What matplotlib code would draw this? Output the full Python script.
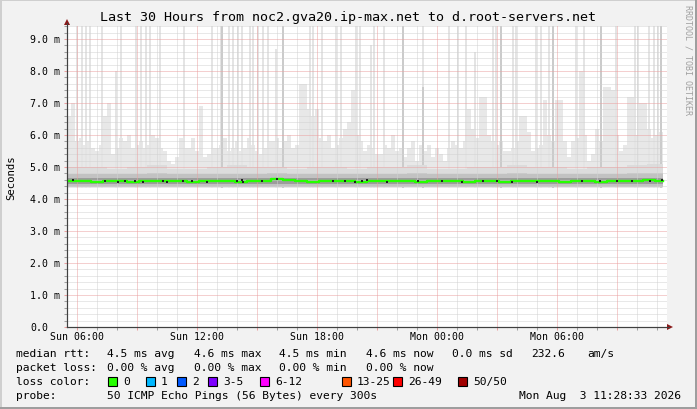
import matplotlib
matplotlib.use('Agg')
import matplotlib.pyplot as plt
import numpy as np
from matplotlib.patches import Rectangle, Polygon
from matplotlib.lines import Line2D

# ---------------- data ----------------
title = "Last 30 Hours from noc2.gva20.ip-max.net to d.root-servers.net"
xtick_hours = [0.5, 6.5, 12.5, 18.5, 24.5]          # hours since Sun 05:30
xtick_labels = ["Sun 06:00", "Sun 12:00", "Sun 18:00", "Mon 00:00", "Mon 06:00"]
ytick_values = [0, 1, 2, 3, 4, 5, 6, 7, 8, 9]         # ms
ytick_labels = ["0.0", "1.0 m", "2.0 m", "3.0 m", "4.0 m", "5.0 m",
                "6.0 m", "7.0 m", "8.0 m", "9.0 m"]

# light smoke envelope, 12-minute bins (ms)
smoke_hi = [6.6, 7.0, 5.8, 5.9, 5.7, 5.8, 5.6, 5.5, 5.7, 6.6, 7.0, 5.4, 5.6, 5.9, 5.8, 6.0,
            5.6, 5.7, 5.8, 5.6, 5.7, 6.0, 5.9, 5.6, 5.5, 5.2, 5.1, 5.3, 5.9, 5.6, 5.6, 5.9,
            5.5, 6.9, 5.3, 5.4, 5.6, 5.6, 5.7, 5.9, 5.5, 5.6, 5.8, 5.5, 5.6, 5.9, 5.7, 5.5,
            5.4, 5.6, 5.8, 5.8, 5.9, 5.6, 5.8, 6.0, 5.6, 5.7, 7.6, 7.6, 6.8, 6.6, 6.8, 5.9,
            5.8, 6.0, 5.6, 5.7, 5.9, 6.2, 6.4, 7.4, 6.0, 5.8, 5.5, 5.7, 5.6, 5.4, 5.4, 5.7,
            5.6, 6.0, 5.5, 5.6, 5.3, 5.6, 5.8, 5.2, 5.7, 5.5, 5.7, 5.3, 5.6, 5.4, 5.2, 5.6,
            5.8, 5.7, 5.6, 5.8, 6.8, 6.2, 5.9, 7.2, 7.2, 6.0, 5.8, 5.7, 5.8, 5.5, 5.5, 5.6,
            5.8, 6.6, 6.6, 6.1, 5.5, 5.6, 5.7, 7.1, 6.0, 5.8, 7.1, 7.1, 5.8, 5.3, 5.8, 5.9,
            8.0, 6.0, 5.2, 5.4, 6.2, 5.8, 7.5, 7.5, 7.4, 6.0, 5.5, 5.7, 7.2, 7.2, 6.0, 7.0,
            7.0, 6.2, 5.9, 6.0, 6.1]

# isolated tall spikes (hours since start, top in ms)
spike_hours = [0.5, 0.75, 0.95, 1.15, 1.75, 2.45, 2.7, 3.45, 3.7, 3.95, 4.15, 4.65, 5.85,
               7.25, 7.7, 8.1, 8.3, 8.55, 8.75, 9.15, 9.3, 9.55, 9.8, 10.05, 10.45, 10.8,
               12.15, 12.3, 12.75, 13.45, 13.7, 14.45, 14.65, 15.2, 15.35, 15.85, 16.8,
               17.8, 19.1, 19.55, 19.95, 20.4, 21.3, 21.45, 21.7, 22.3, 22.45, 23.45, 23.7,
               24.1, 24.3, 25.45, 25.85, 26.7, 27.45, 28.4, 28.55, 29.1, 29.35, 29.55, 29.7]
spike_top = [9.5, 9.5, 9.5, 9.5, 9.5, 8.0, 9.5, 9.5, 9.5, 9.5, 9.5, 9.5, 9.5,
             9.5, 9.5, 9.5, 9.5, 9.5, 9.5, 9.5, 9.5, 9.5, 9.5, 9.5, 8.7, 9.5,
             9.5, 9.5, 9.5, 9.5, 9.5, 9.5, 9.5, 8.8, 9.5, 9.5, 9.5,
             9.5, 9.5, 9.5, 9.5, 8.6, 9.5, 9.5, 9.5, 9.5, 9.5, 9.5, 9.5,
             9.5, 9.5, 9.5, 9.5, 9.5, 9.5, 9.5, 9.5, 9.5, 9.5, 9.5, 9.5]
dark_spike_hours = [7.75, 10.8, 16.8, 17.8, 21.7, 24.3, 26.7, 29.7]
dark_spike_top = [9.5, 9.5, 9.5, 7.5, 9.5, 9.5, 9.5, 9.5]

# medium smoke and dense band, hourly (ms)
mid_hi = [5.0, 5.0, 4.95, 5.0, 5.05, 4.95, 4.95, 5.0, 5.05, 5.0, 5.0, 4.95, 5.0, 5.0, 4.95,
          5.0, 5.0, 5.05, 4.95, 4.95, 5.0, 5.0, 5.05, 5.0, 5.0, 4.95, 5.0, 5.0, 5.05, 5.1]
band_lo = [4.37] * 30
band_hi = [4.79, 4.78, 4.77, 4.79, 4.8, 4.77, 4.78, 4.77, 4.79, 4.78, 4.8, 4.79, 4.77, 4.78, 4.77,
           4.79, 4.78, 4.8, 4.77, 4.78, 4.77, 4.79, 4.8, 4.78, 4.77, 4.78, 4.79, 4.79, 4.8, 4.8]
inner_lo = [4.46] * 30
inner_hi = [4.66] * 30

# median rtt, 36-minute bins (ms)
median = [4.56, 4.55, 4.54, 4.55, 4.56, 4.54, 4.55, 4.55, 4.57, 4.55, 4.54, 4.56, 4.55, 4.55,
          4.54, 4.55, 4.56, 4.62, 4.60, 4.55, 4.54, 4.55, 4.56, 4.55, 4.54, 4.55, 4.55, 4.56,
          4.55, 4.54, 4.55, 4.56, 4.55, 4.54, 4.55, 4.55, 4.54, 4.56, 4.55, 4.55, 4.55, 4.54,
          4.55, 4.55, 4.54, 4.55, 4.56, 4.57, 4.58, 4.57]

# darkest smoke specks on the median (hours, ms)
speck_hours = [0.3, 1.9, 2.55, 2.9, 3.4, 3.8, 4.8, 5.0, 5.8, 6.25, 7.0, 8.5, 8.75, 8.8,
               9.75, 10.5, 13.3, 13.9, 14.4, 14.75, 15.0, 16.0, 17.55, 18.75, 19.75,
               20.8, 21.5, 22.25, 23.5, 25.75, 26.65, 27.5, 28.25, 29.15, 29.75]
speck_ms = [4.58, 4.55, 4.52, 4.56, 4.55, 4.53, 4.56, 4.52, 4.55, 4.57, 4.54, 4.55, 4.58, 4.53,
            4.55, 4.62, 4.56, 4.57, 4.53, 4.55, 4.58, 4.54, 4.56, 4.55, 4.53,
            4.56, 4.57, 4.54, 4.53, 4.56, 4.55, 4.57, 4.55, 4.56, 4.58]

loss_labels = ["0", "1", "2", "3-5", "6-12", "13-25", "26-49", "50/50"]
loss_colors = ["#26ff00", "#00b8ff", "#0059ff", "#7e00ff", "#ff00ff", "#ff5500", "#ff0000", "#a10000"]

rtt_stats = ["4.5 ms avg", "4.6 ms max", "4.5 ms min", "4.6 ms now", "0.0 ms sd", "232.6", "am/s"]
loss_stats = ["0.00 % avg", "0.00 % max", "0.00 % min", "0.00 % now"]
probe_text = "50 ICMP Echo Pings (56 Bytes) every 300s"
stamp_text = "Mon Aug  3 11:28:33 2026"

# ---------------- figure ----------------
W, H = 697, 410
MONO = 'DejaVu Sans Mono'
fig = plt.figure(figsize=(W / 100, H / 100), dpi=100)
fig.patch.set_facecolor('#f2f2f2')


def fx(x):
    return x / W


def fy(y):
    return 1 - y / H


ax = fig.add_axes([fx(67), fy(328), 600 / W, 301 / H])
ax.set_facecolor('white')
ax.set_xlim(0, 30)
ax.set_ylim(0, 301 / 32)


def step_fill(edges, lo, hi, color, z):
    lo = list(lo) + [lo[-1]]
    hi = list(hi) + [hi[-1]]
    ax.fill_between(edges, lo, hi, step='post', color=color, lw=0, zorder=z)


e12 = np.arange(len(smoke_hi) + 1) * 0.2
step_fill(e12, [4.35] * len(smoke_hi), smoke_hi, '#e8e8e8', 1)
ax.bar(spike_hours, np.array(spike_top) - 4.35, bottom=4.35, width=0.12,
       color='#e4e4e4', lw=0, zorder=1.1)
ax.bar(dark_spike_hours, np.array(dark_spike_top) - 4.35, bottom=4.35, width=0.1,
       color='#cbcbcb', lw=0, zorder=1.2)
eh = np.arange(len(mid_hi) + 1) * 1.0
eh[-1] = 29.8
step_fill(eh, [4.38] * len(mid_hi), mid_hi, '#dcdcdc', 1.3)
step_fill(eh, band_lo, band_hi, '#c2c2c2', 1.4)
step_fill(eh, inner_lo, inner_hi, '#9c9c9c', 1.5)

# grid
dot = (0, (1, 1))
for y in np.arange(0.2, 9.41, 0.2):
    if abs(y - round(y)) > 1e-6:
        ax.axhline(y, color='#d2d2d2', lw=0.72, ls=dot, zorder=2)
for y in range(1, 10):
    ax.axhline(y, color='#eba0a0', lw=0.72, ls=dot, zorder=2.1)
for k in range(30):
    h = 0.5 + k
    if k % 3:
        ax.axvline(h, color='#d2d2d2', lw=0.72, ls=dot, zorder=2)
    else:
        ax.axvline(h, color='#eba0a0', lw=0.72, ls=dot, zorder=2.1)

# median line
em = np.arange(len(median) + 1) * 0.6
em[-1] = 29.8
ax.step(em, list(median) + [median[-1]], where='post', color='#26ff00', lw=1.7, zorder=3)
ax.scatter(speck_hours, speck_ms, s=1.1, marker='s', color='#202020', lw=0, zorder=3.5)

# axes/spines
for s in ['top', 'right']:
    ax.spines[s].set_visible(False)
for s in ['left', 'bottom']:
    ax.spines[s].set_color('#404040')
    ax.spines[s].set_linewidth(0.8)
ax.set_xticks([0.5 + 3 * k for k in range(10)])
ax.set_xticks([0.5 + k for k in range(30)], minor=True)
ax.set_yticks(ytick_values)
ax.set_yticks(np.arange(0, 9.41, 0.2), minor=True)
ax.tick_params(which='major', length=2.5, width=0.75, color='#eba0a0', labelleft=False, labelbottom=False)
ax.tick_params(which='minor', length=2.0, width=0.75, color='#a0a0a0')

# axis extensions and arrows
fig.add_artist(Line2D([fx(67), fx(67)], [fy(328), fy(24)], color='#404040', lw=0.8))
fig.add_artist(Line2D([fx(67), fx(669)], [fy(328), fy(328)], color='#404040', lw=0.8))
fig.add_artist(Polygon([[fx(64), fy(26)], [fx(70), fy(26)], [fx(67), fy(20)]],
                       closed=True, color='#8b1a1a', lw=0))
fig.add_artist(Polygon([[fx(667), fy(325)], [fx(667), fy(331)], [fx(673), fy(328)]],
                       closed=True, color='#8b1a1a', lw=0))

# tick labels
for v, lab in zip(ytick_values, ytick_labels):
    fig.text(fx(30), fy(328 - 32 * v), lab, ha='left', va='center', family=MONO,
             fontsize=7.1, color='black')
for h, lab in zip(xtick_hours, xtick_labels):
    fig.text(fx(67 + 20 * h), fy(337), lab, ha='center', va='center', family=MONO,
             fontsize=7.1, color='black')

# title and labels
fig.text(fx(348), fy(18), title, ha='center', va='center', family=MONO, fontsize=9.6)
fig.text(fx(11), fy(178), "Seconds", ha='center', va='center', rotation=90,
         family=MONO, fontsize=7.7)
fig.text(fx(688), fy(60), "RRDTOOL / TOBI OETIKER", ha='center', va='center',
         rotation=270, family=MONO, fontsize=6.0, color='#a0a0a0')

# legend
LF = 8.1
rows = [354, 368, 382, 396]
fig.text(fx(16), fy(rows[0]), "median rtt:", ha='left', va='center', family=MONO, fontsize=LF)
for x, t in zip([107, 194, 279, 366, 452, 531, 587], rtt_stats):
    fig.text(fx(x), fy(rows[0]), t, ha='left', va='center', family=MONO, fontsize=LF)
fig.text(fx(16), fy(rows[1]), "packet loss:", ha='left', va='center', family=MONO, fontsize=LF)
for x, t in zip([107, 194, 279, 366], loss_stats):
    fig.text(fx(x), fy(rows[1]), t, ha='left', va='center', family=MONO, fontsize=LF)
fig.text(fx(16), fy(rows[2]), "loss color:", ha='left', va='center', family=MONO, fontsize=LF)
box_x = [108, 146, 177, 208, 260, 342, 393, 458]
for bx, lab, col in zip(box_x, loss_labels, loss_colors):
    fig.add_artist(Rectangle((fx(bx), fy(rows[2] + 4.5)), 9 / W, 9 / H, facecolor=col,
                             edgecolor='black', lw=0.8))
    fig.text(fx(bx + 15), fy(rows[2]), lab, ha='left', va='center', family=MONO, fontsize=LF)
fig.text(fx(16), fy(rows[3]), "probe:", ha='left', va='center', family=MONO, fontsize=LF)
fig.text(fx(107), fy(rows[3]), probe_text, ha='left', va='center', family=MONO, fontsize=LF)
fig.text(fx(681), fy(rows[3]), stamp_text, ha='right', va='center', family=MONO, fontsize=LF)

# 3D border
fig.add_artist(Rectangle((0, fy(2)), 1, 2 / H, color='#cfcfcf', lw=0))
fig.add_artist(Rectangle((0, 0), 2 / W, 1, color='#cfcfcf', lw=0))
fig.add_artist(Rectangle((0, 0), 1, 2 / H, color='#9e9e9e', lw=0))
fig.add_artist(Rectangle((fx(695), 0), 2 / W, 1, color='#9e9e9e', lw=0))

fig.savefig('out.png', dpi=100, facecolor=fig.get_facecolor())
